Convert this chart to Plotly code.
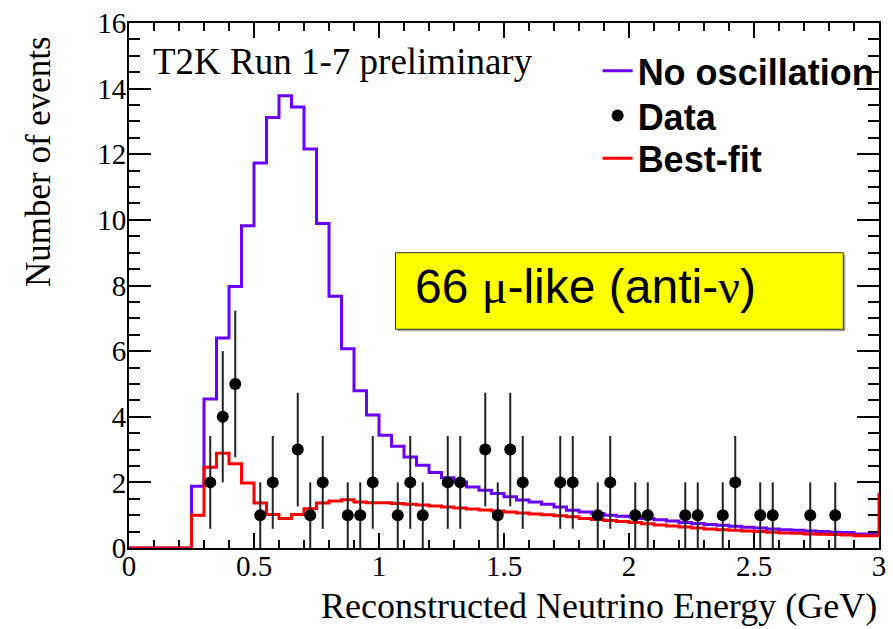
import numpy as np
import plotly.graph_objects as go

# Binning: 0.05 GeV bins from 0 to 3 GeV
bin_width = 0.05
n_bins = 60

# Predicted spectrum without oscillation (events per bin)
no_osc = [
    0, 0, 0, 0, 0,
    1.88, 4.54, 6.40, 7.97, 9.82, 11.73, 13.12, 13.78, 13.44, 12.16,
    9.89, 7.67, 6.07, 4.79, 4.05, 3.44, 3.10, 2.77, 2.52, 2.30,
    2.14, 2.01, 1.86, 1.76, 1.66, 1.56, 1.46, 1.40, 1.33, 1.25,
    1.15, 1.10, 1.05, 1.00, 0.97,
    0.95, 0.90, 0.86, 0.82, 0.78, 0.75, 0.72, 0.69, 0.66, 0.63,
    0.61, 0.58, 0.56, 0.54, 0.52, 0.50, 0.48, 0.47, 0.43, 0.42,
]

# Best-fit oscillated prediction (events per bin); overflow bin above 3 GeV kept separately
best_fit = [
    0, 0, 0, 0, 0,
    1.00, 2.46, 2.89, 2.57, 1.98, 1.37, 1.02, 0.90, 1.02, 1.20,
    1.37, 1.43, 1.47, 1.40, 1.38, 1.38, 1.36, 1.33, 1.31, 1.28,
    1.25, 1.22, 1.19, 1.16, 1.13, 1.10, 1.07, 1.04, 1.01, 0.98,
    0.95, 0.90, 0.87, 0.84, 0.81,
    0.78, 0.74, 0.70, 0.67, 0.64, 0.61, 0.58, 0.56, 0.54, 0.52,
    0.50, 0.48, 0.46, 0.45, 0.43, 0.42, 0.41, 0.40, 0.37, 0.37,
]
best_fit_overflow = 1.64

# Observed events: bin centres (GeV) and counts
data_energy = [
    0.325, 0.375, 0.425, 0.525, 0.575, 0.675, 0.725, 0.775, 0.875, 0.925,
    0.975, 1.075, 1.125, 1.175, 1.275, 1.325, 1.425, 1.475, 1.525, 1.575,
    1.725, 1.775, 1.875, 1.925, 2.025, 2.075, 2.225, 2.275, 2.375, 2.425,
    2.525, 2.575, 2.725, 2.825,
]
data_counts = [
    2, 4, 5, 1, 2, 3, 1, 2, 1, 1,
    2, 1, 2, 1, 2, 2, 3, 1, 3, 2,
    2, 2, 1, 2, 1, 1, 1, 1, 1, 2,
    1, 1, 1, 1,
]

x_ticks = [0, 0.5, 1, 1.5, 2, 2.5, 3]
x_tick_text = ["0", "0.5", "1", "1.5", "2", "2.5", "3"]
y_ticks = [0, 2, 4, 6, 8, 10, 12, 14, 16]

BLUE = "#6a00ff"
RED = "#ff0000"
SERIF = "Liberation Serif"
SANS = "Liberation Sans"

edges = np.round(np.arange(n_bins + 1) * bin_width, 3)


def step_xy(values, extra=None):
    """Histogram outline as an 'hv' step line through the bin edges."""
    xs = list(edges)
    ys = list(values) + [values[-1]]
    if extra is not None:
        ys[-1] = extra
        xs.append(edges[-1] + bin_width)
        ys.append(extra)
    return xs, ys


# Plot frame geometry (pixels)
W, H = 893, 629
L, R, T, B = 129, 7, 20, 81
pw, ph = W - L - R, H - T - B


def px_x(p):
    return (p - L) / pw


def px_y(p):
    return (H - B - p) / ph


fig = go.Figure()

bx, by = step_xy(no_osc)
fig.add_trace(go.Scatter(
    x=bx, y=by, mode="lines", line=dict(color=BLUE, width=3, shape="hv"),
    name="No oscillation", legend="legend", hoverinfo="skip",
))

rx, ry = step_xy(best_fit, extra=best_fit_overflow)
fig.add_trace(go.Scatter(
    x=rx, y=ry, mode="lines", line=dict(color=RED, width=3, shape="hv"),
    name="Best-fit", legend="legend3", hoverinfo="skip",
))

counts = np.array(data_counts, dtype=float)
fig.add_trace(go.Scatter(
    x=data_energy, y=data_counts, mode="markers",
    marker=dict(color="black", size=12, symbol="circle"),
    error_y=dict(type="data", array=np.sqrt(counts), symmetric=True,
                 width=0, thickness=2, color="#222222"),
    name="Data", legend="legend2",
))

axis_common = dict(
    showline=True, linecolor="black", linewidth=2, mirror="ticks",
    ticks="inside", tickcolor="black", tickwidth=2,
    showgrid=False, zeroline=False, layer="below traces",
    tickfont=dict(family=SERIF, size=29, color="black"),
)

fig.update_xaxes(
    range=[0, 3], tickvals=x_ticks, ticktext=x_tick_text, ticklen=15,
    ticklabelstandoff=-9,
    minor=dict(ticks="inside", dtick=0.1, ticklen=8, tickwidth=1.5, tickcolor="black"),
    **axis_common,
)
fig.update_yaxes(
    range=[0, 16], tickvals=y_ticks, ticklen=22,
    ticklabelstandoff=-5,
    minor=dict(ticks="inside", dtick=0.5, ticklen=11, tickwidth=1.5, tickcolor="black"),
    **axis_common,
)

# Yellow label box with a soft drop shadow
bx0, bx1, by0, by1 = 398, 850, 251, 328
fig.add_shape(type="rect", xref="paper", yref="paper",
              x0=px_x(bx0 + 2), x1=px_x(bx1 + 2), y0=px_y(by1 + 2), y1=px_y(by0 + 2),
              fillcolor="#a0a0a0", line=dict(width=0), layer="above")
fig.add_shape(type="rect", xref="paper", yref="paper",
              x0=px_x(bx0), x1=px_x(bx1), y0=px_y(by1), y1=px_y(by0),
              fillcolor="#ffff00", line=dict(color="#333333", width=1), layer="above")

annotations = [
    dict(text="66 <span style='font-family:Liberation Serif'>μ</span>-like (anti-<span style='font-family:Liberation Serif'>ν</span>)",
         x=px_x(416), y=px_y(285), xanchor="left", yanchor="middle",
         font=dict(family=SANS, size=48, color="black")),
    dict(text="T2K Run 1-7 preliminary",
         x=px_x(151), y=px_y(59), xanchor="left", yanchor="middle",
         font=dict(family=SERIF, size=37, color="black")),
    dict(text="Reconstructed Neutrino Energy (GeV)",
         x=px_x(886), y=px_y(606), xanchor="right", yanchor="middle",
         font=dict(family=SERIF, size=36, color="black")),
    dict(text="Number of events", textangle=-90,
         x=px_x(37), y=px_y(159), xanchor="center", yanchor="middle",
         font=dict(family=SERIF, size=35, color="black")),
]
for a in annotations:
    a.update(xref="paper", yref="paper", showarrow=False)

legend_font = dict(family=SANS, size=36, color="black", weight="bold")


def legend_at(top_px):
    return dict(
        x=px_x(602), xanchor="left", y=px_y(top_px), yanchor="top",
        font=legend_font, bgcolor="rgba(0,0,0,0)", borderwidth=0, itemwidth=30,
    )


fig.update_layout(
    width=W, height=H,
    margin=dict(l=L, r=R, t=T, b=B),
    paper_bgcolor="white", plot_bgcolor="white",
    annotations=annotations,
    showlegend=True,
    legend=legend_at(38),
    legend2=legend_at(83),
    legend3=legend_at(126),
)

fig.write_html("out.html")
